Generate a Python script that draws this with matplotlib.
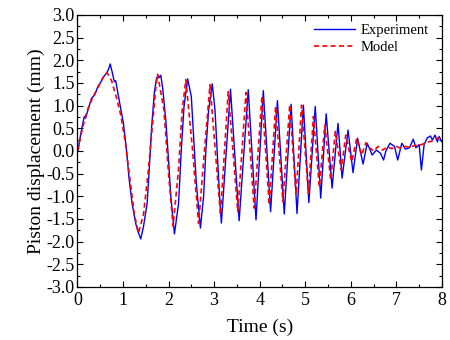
import matplotlib

matplotlib.use("Agg")
import matplotlib.pyplot as plt
from matplotlib.ticker import MultipleLocator, FormatStrFormatter

# experiment trace
exp_t = [0.00, 0.02, 0.05, 0.09, 0.15, 0.18, 0.23, 0.31, 0.38, 0.45, 0.52, 0.56,
         0.61, 0.64, 0.68, 0.72, 0.77, 0.81, 0.84, 0.89, 0.95, 1.01, 1.08, 1.13,
         1.20, 1.28, 1.33, 1.39, 1.45, 1.53, 1.58, 1.63, 1.69, 1.74, 1.78, 1.80,
         1.83, 1.87, 1.94, 2.00, 2.05, 2.13, 2.22, 2.28, 2.34, 2.42, 2.50, 2.55,
         2.61, 2.70, 2.77, 2.82, 2.88, 2.96, 3.02, 3.07, 3.12, 3.16, 3.36, 3.55,
         3.75, 3.92, 4.08, 4.24, 4.39, 4.54, 4.69, 4.82, 4.96, 5.08, 5.22, 5.34,
         5.46, 5.59, 5.72, 5.81, 5.94, 6.05, 6.15, 6.27, 6.36, 6.47, 6.56, 6.65,
         6.72, 6.77, 6.86, 6.96, 7.03, 7.12, 7.20, 7.29, 7.37, 7.43, 7.50, 7.55,
         7.61, 7.68, 7.75, 7.79, 7.85, 7.90, 7.94, 8.00]
exp_y = [0.10, 0.02, 0.24, 0.46, 0.76, 0.72, 0.90, 1.16, 1.24, 1.42, 1.53, 1.62,
         1.68, 1.72, 1.79, 1.92, 1.71, 1.53, 1.55, 1.27, 0.94, 0.61, 0.00, -0.57,
         -1.16, -1.60, -1.78, -1.94, -1.67, -1.16, -0.35, 0.54, 1.30, 1.62, 1.66, 1.62,
         1.67, 1.40, 0.68, -0.20, -1.00, -1.83, -1.16, 0.02, 0.98, 1.59, 1.20, 0.32,
         -0.71, -1.70, -1.00, 0.02, 0.90, 1.48, 0.90, -0.05, -1.00, -1.59, 1.36, -1.54,
         1.35, -1.52, 1.33, -1.34, 1.11, -1.39, 1.03, -1.38, 1.01, -1.14, 0.98, -1.04,
         0.82, -0.82, 0.61, -0.60, 0.46, -0.48, 0.28, -0.29, 0.17, -0.09, 0.02, -0.05,
         -0.20, 0.00, 0.17, 0.10, -0.20, 0.17, 0.04, 0.07, 0.26, 0.07, 0.14, -0.42,
         0.14, 0.29, 0.33, 0.24, 0.35, 0.20, 0.32, 0.20]

# model trace
mod_t = [0.00, 0.10, 0.20, 0.30, 0.40, 0.50, 0.60, 0.65, 0.75, 0.85, 0.95, 1.05,
         1.15, 1.25, 1.34, 1.45, 1.55, 1.65, 1.72, 1.76, 1.90, 2.00, 2.10, 2.22,
         2.30, 2.38, 2.52, 2.66, 2.78, 2.91, 3.14, 3.31, 3.52, 3.70, 3.88, 4.05,
         4.21, 4.35, 4.51, 4.66, 4.80, 4.92, 5.07, 5.18, 5.31, 5.43, 5.56, 5.66,
         5.79, 5.89, 6.02, 6.13, 6.24, 6.33, 6.40, 6.50, 6.60, 6.70, 6.80, 6.90,
         7.00, 7.10, 7.20, 7.30, 7.40, 7.50, 7.60, 7.70, 7.80, 7.90, 8.00]
mod_y = [0.00, 0.45, 0.85, 1.10, 1.30, 1.50, 1.68, 1.73, 1.55, 1.20, 0.80, 0.20,
         -0.60, -1.40, -1.81, -1.40, -0.50, 0.60, 1.40, 1.69, 0.90, -0.50, -1.66, -0.40,
         0.90, 1.57, 0.10, -1.60, -0.10, 1.46, -1.41, 1.31, -1.34, 1.29, -1.26, 1.21,
         -1.19, 0.98, -1.12, 1.02, -0.97, 1.01, -0.93, 0.76, -0.79, 0.57, -0.64, 0.43,
         -0.42, 0.35, -0.24, 0.28, -0.09, 0.18, 0.08, 0.00, 0.10, 0.02, 0.09, 0.05,
         0.10, 0.06, 0.10, 0.08, 0.12, 0.12, 0.16, 0.20, 0.22, 0.28, 0.30]

plt.rcParams["font.family"] = ["Liberation Serif", "DejaVu Serif"]
plt.rcParams["axes.unicode_minus"] = False

fig = plt.figure(figsize=(4.5, 3.4), dpi=100)
ax = fig.add_axes([0.172, 0.156, 0.81, 0.80])

ax.plot(exp_t, exp_y, color="#0000ff", lw=1.0, label="Experiment")
ax.plot(mod_t, mod_y, color="#ff0000", lw=1.2, ls=(0, (3, 2)), label="Model")

ax.set_xlim(0, 8)
ax.set_ylim(-3.0, 3.0)
ax.xaxis.set_major_locator(MultipleLocator(1))
ax.xaxis.set_minor_locator(MultipleLocator(0.5))
ax.yaxis.set_major_locator(MultipleLocator(0.5))
ax.yaxis.set_minor_locator(MultipleLocator(0.25))
ax.yaxis.set_major_formatter(FormatStrFormatter("%.1f"))
ax.tick_params(which="both", direction="in", top=True, right=True, labelsize=13)
ax.tick_params(which="major", length=4, width=0.8)
ax.tick_params(which="minor", length=2, width=0.8)
ax.tick_params(axis="y", pad=2)
for s in ax.spines.values():
    s.set_linewidth(0.9)

ax.set_xlabel("Time (s)", fontsize=14, labelpad=7)
ax.set_ylabel("Piston displacement (mm)", fontsize=14, labelpad=1)

ax.legend(loc="upper right", bbox_to_anchor=(1.0, 1.015), frameon=False,
          fontsize=10.5, handlelength=2.8, handletextpad=0.4, labelspacing=0.25)

fig.savefig("out.png", dpi=100)
